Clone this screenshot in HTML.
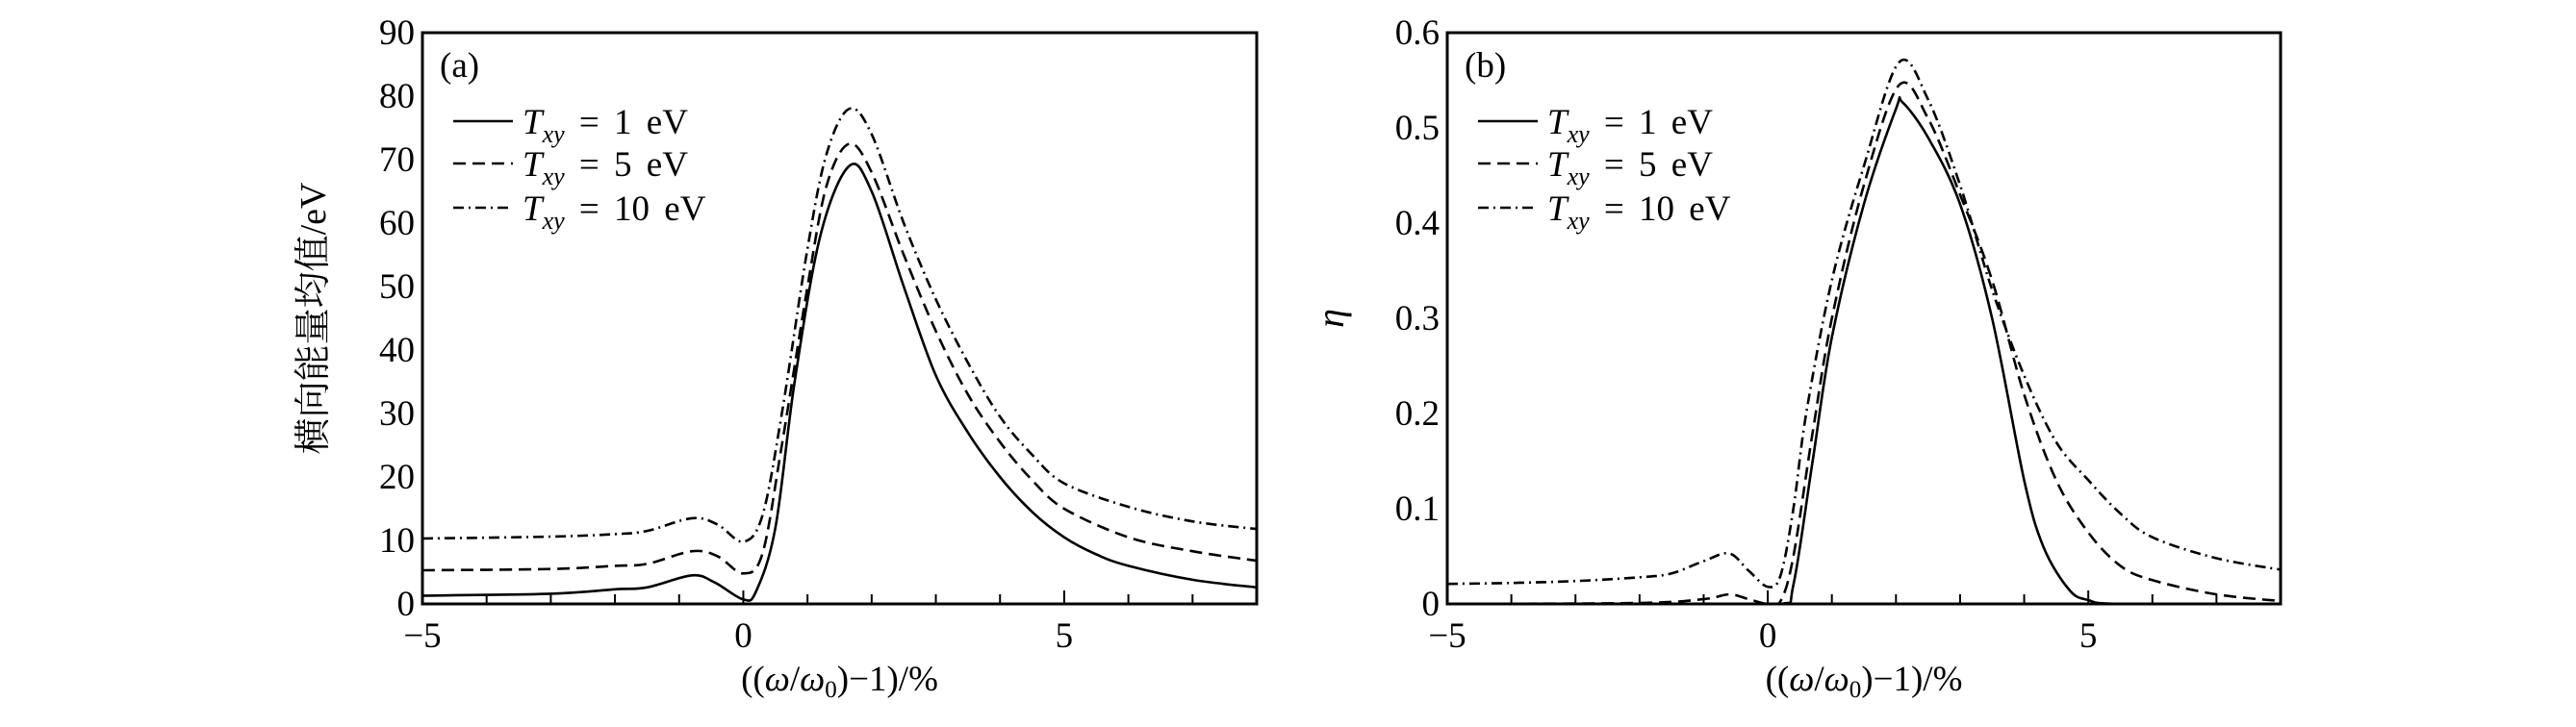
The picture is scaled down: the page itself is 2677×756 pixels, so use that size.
<!DOCTYPE html>
<html><head><meta charset="utf-8"><style>
html,body{margin:0;padding:0;background:#fff;}
svg{display:block;}
text{font-family:"Liberation Serif","Noto Serif CJK SC",serif;fill:#000;}
</style></head><body>
<svg id="s" width="2677" height="756" xmlns="http://www.w3.org/2000/svg"></svg>
<script>
const S=document.getElementById('s');
let out='';
function cr(pts){let d='M'+pts[0][0].toFixed(1)+' '+pts[0][1].toFixed(1);
 for(let i=0;i<pts.length-1;i++){const p0=pts[Math.max(0,i-1)],p1=pts[i],p2=pts[i+1],p3=pts[Math.min(pts.length-1,i+2)];
  const c1=[p1[0]+(p2[0]-p0[0])/6,p1[1]+(p2[1]-p0[1])/6],c2=[p2[0]-(p3[0]-p1[0])/6,p2[1]-(p3[1]-p1[1])/6];
  d+=` C${c1[0].toFixed(1)} ${c1[1].toFixed(1)} ${c2[0].toFixed(1)} ${c2[1].toFixed(1)} ${p2[0].toFixed(1)} ${p2[1].toFixed(1)}`;}
 return d;}
const dashes=['none','13,7','11,5,2,5'];
function panel(L,R,T,B,ymax,yticks,yfmt,series,lab,ylabel){
 const X=x=>L+(x+5)/13*(R-L), Y=y=>B-y/ymax*(B-T);
 out+=`<clipPath id="c${lab}"><rect x="${L}" y="${T}" width="${R-L}" height="${B-T}"/></clipPath>`;
 series.forEach((s,i)=>{out+=`<path d="${cr(s.map(p=>[X(p[0]),Y(p[1])]))}" fill="none" stroke="#000" stroke-width="2.6" stroke-dasharray="${dashes[i]}" clip-path="url(#c${lab})"/>`;});
 out+=`<rect x="${L}" y="${T}" width="${R-L}" height="${B-T}" fill="none" stroke="#000" stroke-width="3"/>`;
 for(let x=-5;x<=8;x++){const px=X(x);const len=(x%5==0)?14:10;out+=`<line x1="${px}" y1="${B}" x2="${px}" y2="${B-len}" stroke="#000" stroke-width="2"/>`;}
 [-5,0,5].forEach(x=>{out+=`<text x="${X(x)}" y="${B+45}" font-size="37" text-anchor="middle">${x<0?'\u2212'+(-x):x}</text>`;});
 yticks.forEach(v=>{out+=`<text x="${L-8}" y="${Y(v)+12}" font-size="37" text-anchor="end">${yfmt(v)}</text>`;});
 out+=`<text x="${(L+R)/2}" y="${B+90}" font-size="37" text-anchor="middle">((<tspan font-style="italic">ω</tspan>/<tspan font-style="italic">ω</tspan><tspan font-size="25" dy="7">0</tspan><tspan dy="-7">)</tspan>−1)/%</text>`;
 out+=`<text x="${L+18}" y="${T+46}" font-size="37">(${lab})</text>`;
 const ly=[128,172,218],vals=['1','5','10'];
 ly.forEach((y,i)=>{out+=`<line x1="${L+32}" y1="${y-2}" x2="${L+94}" y2="${y-2}" stroke="#000" stroke-width="2.6" stroke-dasharray="${dashes[i]}"/>`;
  out+=`<text x="${L+104}" y="${y+11}" font-size="37" word-spacing="6"><tspan font-style="italic">T</tspan><tspan font-style="italic" font-size="26" dy="9">xy</tspan><tspan dy="-9"> = ${vals[i]} eV</tspan></text>`;});
 out+=ylabel;
}
panel(439,1306,34,628,90,[0,10,20,30,40,50,60,70,80,90],v=>v,[
 [[-5,1.3],[-3,1.6],[-2,2.3],[-1.5,2.6],[-0.8,4.5],[-0.45,3.4],[0,0.7],[0.2,2],[0.5,12],[0.8,35],[1.2,58],[1.65,69],[2,65],[2.5,50],[3,36],[3.5,27],[4,20],[4.5,14.5],[5,10.5],[5.5,7.8],[6,6],[7,3.8],[8,2.6]],
 [[-5,5.3],[-3,5.5],[-2,6],[-1.5,6.3],[-0.8,8.3],[-0.4,7.5],[0,4.8],[0.3,8],[0.6,25],[1,50],[1.3,66],[1.65,72.5],[2,68],[2.5,55],[3,43],[3.5,33],[4,25.5],[4.5,19.5],[5,15],[6,10.5],[7,8.3],[8,6.8]],
 [[-5,10.3],[-3,10.6],[-2,11],[-1.5,11.5],[-0.8,13.5],[-0.4,12.5],[0,9.8],[0.3,14],[0.6,30],[1,56],[1.3,71],[1.65,78],[2,74],[2.5,60],[3,48],[3.5,38],[4,29.5],[4.5,23.5],[5,19],[6,15.3],[7,13],[8,11.8]]
],'a',`<text transform="translate(338,331) rotate(-90)" font-size="38" text-anchor="middle">横向能量均值/eV</text>`);
panel(1504,2370,34,628,0.6,[0,0.1,0.2,0.3,0.4,0.5,0.6],v=>v==0?'0':v.toFixed(1),[
 [[-5,0],[-1,0],[0.2,0],[0.4,0.02],[0.7,0.15],[1,0.28],[1.5,0.42],[2,0.52],[2.1,0.527],[2.5,0.49],[3,0.42],[3.5,0.3],[4,0.13],[4.3,0.06],[4.7,0.015],[5,0.004],[5.5,0],[8,0]],
 [[-5,0],[-2,0.001],[-1,0.005],[-0.6,0.01],[-0.3,0.005],[0,0],[0.2,0.003],[0.4,0.05],[0.7,0.18],[1,0.3],[1.5,0.44],[2.05,0.545],[2.5,0.51],[3,0.43],[3.5,0.34],[4,0.22],[4.5,0.13],[5,0.075],[5.5,0.04],[6,0.025],[7,0.01],[8,0.003]],
 [[-5,0.021],[-4,0.022],[-3,0.024],[-2,0.028],[-1.5,0.032],[-1,0.045],[-0.6,0.053],[-0.3,0.035],[0,0.018],[0.2,0.03],[0.4,0.1],[0.6,0.2],[1,0.34],[1.5,0.46],[2.05,0.569],[2.5,0.53],[3,0.44],[3.5,0.33],[4,0.24],[4.5,0.17],[5,0.13],[5.5,0.095],[6,0.07],[7,0.048],[8,0.036]]
],'b',`<text transform="translate(1396,331) rotate(-90)" font-size="40" font-style="italic" text-anchor="middle">η</text>`);
S.innerHTML=out;
</script>
</body></html>
